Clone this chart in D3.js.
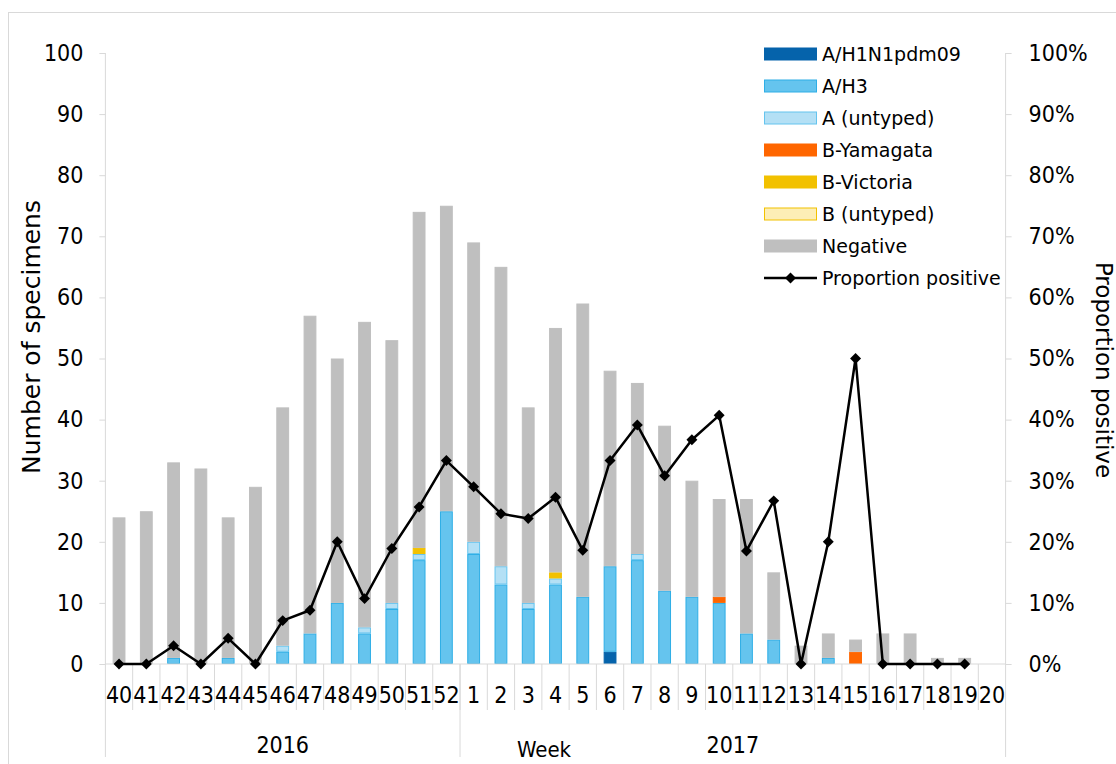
<!DOCTYPE html>
<html>
<head>
<meta charset="utf-8">
<script src="https://cdn.jsdelivr.net/npm/d3@7"></script>
<style>
  html, body { margin: 0; padding: 0; background: #fff; }
  svg { display: block; }
  text { font-family: "DejaVu Sans Condensed", "DejaVu Sans", sans-serif; font-stretch: condensed; fill: #000; }
  text.wide { font-family: "DejaVu Sans", sans-serif; font-stretch: normal; }
</style>
</head>
<body>
<svg id="chart" width="1116" height="764"></svg>
<script>
// Weekly influenza specimens by type, weeks 40/2016 to 20/2017
const weeks = ["40","41","42","43","44","45","46","47","48","49","50","51","52",
               "1","2","3","4","5","6","7","8","9","10","11","12","13","14","15","16","17","18","19","20"];
const yearGroups = [
  { label: "2016", first: "40", last: "52" },
  { label: "2017", first: "1", last: "20" }
];

const h1n1pdm09 = [0,0,0,0,0,0,0,0,0,0,0,0,0, 0,0,0,0,0,2,0,0,0,0,0,0,0,0,0,0,0,0,0,0];
const aH3       = [0,0,1,0,1,0,2,5,10,5,9,17,25, 18,13,9,13,11,14,17,12,11,10,5,4,0,1,0,0,0,0,0,0];
const aUntyped  = [0,0,0,0,0,0,1,0,0,1,1,1,0, 2,3,1,1,0,0,1,0,0,0,0,0,0,0,0,0,0,0,0,0];
const bYamagata = [0,0,0,0,0,0,0,0,0,0,0,0,0, 0,0,0,0,0,0,0,0,0,1,0,0,0,0,2,0,0,0,0,0];
const bVictoria = [0,0,0,0,0,0,0,0,0,0,0,1,0, 0,0,0,1,0,0,0,0,0,0,0,0,0,0,0,0,0,0,0,0];
const bUntyped  = [0,0,0,0,0,0,0,0,0,0,0,0,0, 0,0,0,0,0,0,0,0,0,0,0,0,0,0,0,0,0,0,0,0];
const negative  = [24,25,32,32,23,29,39,52,40,50,43,55,50, 49,49,32,40,48,32,28,27,19,16,22,11,3,4,2,5,5,1,1,0];

// Proportion positive (%), no point for week 20
const proportionPositive = [0,0,3.0,0,4.2,0,7.1,8.8,20.0,10.7,18.9,25.7,33.3,
                            29.0,24.6,23.8,27.3,18.6,33.3,39.1,30.8,36.7,40.7,18.5,26.7,0,20.0,50.0,0,0,0,0,null];

const countTicks = [0,10,20,30,40,50,60,70,80,90,100];
const percentTicks = [0,10,20,30,40,50,60,70,80,90,100];

const series = [
  { name: "A/H1N1pdm09",  values: h1n1pdm09, fill: "#0563AB", stroke: "#0563AB" },
  { name: "A/H3",         values: aH3,       fill: "#65C4EE", stroke: "#2EAEE6" },
  { name: "A (untyped)",  values: aUntyped,  fill: "#B4E0F5", stroke: "#65C4EE" },
  { name: "B-Yamagata",   values: bYamagata, fill: "#FF6600", stroke: "#FF6600" },
  { name: "B-Victoria",   values: bVictoria, fill: "#F2C100", stroke: "#F2C100" },
  { name: "B (untyped)",  values: bUntyped,  fill: "#FDEEB6", stroke: "#F2C100" },
  { name: "Negative",     values: negative,  fill: "#BFBFBF", stroke: "#BFBFBF" }
];

const svg = d3.select("#chart");
const axisColor = "#D9D9D9";

const plot = { left: 105.4, right: 1005.6, top: 53, bottom: 664 };

const x = d3.scaleBand().domain(weeks).range([plot.left, plot.right]).paddingInner(0.53).paddingOuter(0.265);
const y = d3.scaleLinear().domain([0, 100]).range([plot.bottom, plot.top]);
const yPct = d3.scaleLinear().domain([0, 100]).range([plot.bottom, plot.top]);
const step = x.step();

// outer chart frame
svg.append("rect").attr("x", 8.5).attr("y", 12.5).attr("width", 1200).attr("height", 800)
  .attr("fill", "none").attr("stroke", axisColor).attr("stroke-width", 1);

// stacked bars
const rows = weeks.map((w, i) => {
  const r = { week: w };
  series.forEach(s => { r[s.name] = s.values[i]; });
  return r;
});
const stack = d3.stack().keys(series.map(s => s.name));
const layers = stack(rows);

const barG = svg.append("g");
layers.forEach((layer, li) => {
  const s = series[li];
  barG.append("g").selectAll("rect")
    .data(layer.filter(d => d[1] - d[0] > 0))
    .join("rect")
    .attr("x", d => x(d.data.week) + 0.5)
    .attr("width", x.bandwidth() - 1)
    .attr("y", d => y(d[1]) + 0.5)
    .attr("height", d => Math.max(0, y(d[0]) - y(d[1]) - 1))
    .attr("fill", s.fill)
    .attr("stroke", s.stroke)
    .attr("stroke-width", 1);
});

// left value axis
const leftAxis = d3.axisLeft(y).tickValues(countTicks).tickSize(6).tickPadding(16).tickFormat(d3.format("d"));
const gl = svg.append("g").attr("transform", `translate(${plot.left},0)`).call(leftAxis);
gl.select(".domain").remove();
gl.selectAll(".tick line").attr("stroke", axisColor);
gl.selectAll(".tick text").attr("font-size", 23).attr("fill", "#000");
svg.append("line").attr("x1", plot.left).attr("x2", plot.left).attr("y1", plot.top).attr("y2", 757)
  .attr("stroke", axisColor);

// right percent axis
const rightAxis = d3.axisRight(yPct).tickValues(percentTicks).tickSize(6).tickPadding(17).tickFormat(d => d + "%");
const gr = svg.append("g").attr("transform", `translate(${plot.right},0)`).call(rightAxis);
gr.select(".domain").remove();
gr.selectAll(".tick line").attr("stroke", axisColor);
gr.selectAll(".tick text").attr("font-size", 23).attr("fill", "#000");
svg.append("line").attr("x1", plot.right).attr("x2", plot.right).attr("y1", plot.top).attr("y2", 757)
  .attr("stroke", axisColor);

// category axis: baseline, week dividers, year dividers
svg.append("line").attr("x1", plot.left).attr("x2", plot.right).attr("y1", plot.bottom).attr("y2", plot.bottom)
  .attr("stroke", axisColor);
const dividers = weeks.map((w, i) => plot.left + i * step).slice(1);
svg.append("g").selectAll("line").data(dividers).join("line")
  .attr("x1", d => d).attr("x2", d => d).attr("y1", plot.bottom).attr("y2", 710)
  .attr("stroke", axisColor);
yearGroups.forEach((g, gi) => {
  const x0 = x(g.first) - x.paddingOuter() * step;
  const x1 = x(g.last) - x.paddingOuter() * step + step;
  if (gi > 0) {
    svg.append("line").attr("x1", x0).attr("x2", x0).attr("y1", plot.bottom).attr("y2", 757).attr("stroke", axisColor);
  }
  svg.append("text").attr("x", (x0 + x1) / 2).attr("y", 753).attr("text-anchor", "middle")
    .attr("font-size", 23).text(g.label);
});
svg.append("g").selectAll("text").data(weeks).join("text")
  .attr("x", d => x(d) + x.bandwidth() / 2).attr("y", 703).attr("text-anchor", "middle")
  .attr("font-size", 23).text(d => d);

// axis titles
svg.append("text").attr("class", "wide").attr("transform", "translate(40,337) rotate(-90)").attr("text-anchor", "middle")
  .attr("font-size", 25).text("Number of specimens");
svg.append("text").attr("class", "wide").attr("transform", "translate(1096,370) rotate(90)").attr("text-anchor", "middle")
  .attr("font-size", 23).text("Proportion positive");
svg.append("text").attr("x", 544).attr("y", 757).attr("text-anchor", "middle")
  .attr("font-size", 22).text("Week");

// proportion positive line with diamond markers
const pts = weeks.map((w, i) => ({ week: w, v: proportionPositive[i] })).filter(d => d.v !== null);
const line = d3.line().x(d => x(d.week) + x.bandwidth() / 2).y(d => yPct(d.v));
svg.append("path").datum(pts).attr("d", line).attr("fill", "none").attr("stroke", "#000")
  .attr("stroke-width", 2.5).attr("stroke-linejoin", "round");
svg.append("g").selectAll("path").data(pts).join("path")
  .attr("transform", d => `translate(${x(d.week) + x.bandwidth() / 2},${yPct(d.v)}) rotate(45)`)
  .attr("d", d3.symbol().type(d3.symbolSquare).size(60)).attr("fill", "#000");

// legend
const legend = svg.append("g").attr("transform", "translate(764,54)");
const rowH = 32;
series.forEach((s, i) => {
  const g = legend.append("g").attr("transform", `translate(0,${i * rowH})`);
  g.append("rect").attr("x", 0.5).attr("y", -6).attr("width", 52).attr("height", 12)
    .attr("fill", s.fill).attr("stroke", s.stroke).attr("stroke-width", 1);
  g.append("text").attr("class", "wide").attr("x", 58).attr("y", 0).attr("dy", "0.35em").attr("font-size", 19).text(s.name);
});
const lg = legend.append("g").attr("transform", `translate(0,${series.length * rowH})`);
lg.append("line").attr("x1", 0).attr("x2", 53).attr("stroke", "#000").attr("stroke-width", 2.5);
lg.append("path").attr("transform", "translate(26.5,0) rotate(45)")
  .attr("d", d3.symbol().type(d3.symbolSquare).size(60)).attr("fill", "#000");
lg.append("text").attr("class", "wide").attr("x", 58).attr("y", 0).attr("dy", "0.35em").attr("font-size", 19).text("Proportion positive");
</script>
</body>
</html>
